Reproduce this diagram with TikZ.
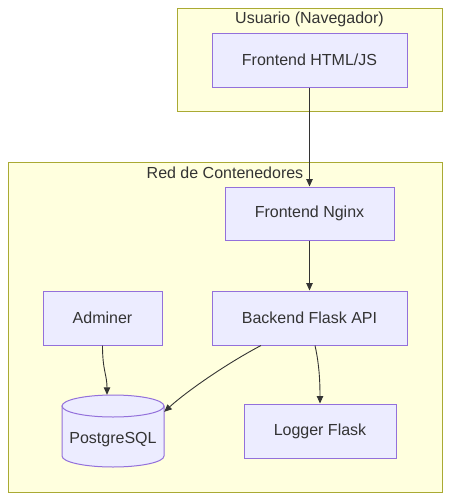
\documentclass[tikz,border=0pt]{standalone}
\usepackage{fontspec}
\setmainfont{Liberation Sans}
\usetikzlibrary{arrows.meta}
\definecolor{nodefill}{HTML}{ECECFF}
\definecolor{nodeline}{HTML}{9370DB}
\definecolor{clfill}{HTML}{FFFFDE}
\definecolor{clline}{HTML}{AAAA33}
\definecolor{txt}{HTML}{333333}
\begin{document}
\begin{tikzpicture}[x=1pt,y=-1pt,
  every node/.style={font=\fontsize{16pt}{19pt}\selectfont, text=txt},
  cluster/.style={draw=clline, fill=clfill, line width=1pt},
  svc/.style={draw=nodeline, fill=nodefill, line width=1pt, inner sep=0pt},
  link/.style={draw=txt, line width=0.9pt, -{Triangle[length=7.5pt,width=6.5pt]}}]
\useasboundingbox (0,0) rectangle (450,501);
% clusters
\draw[cluster] (177,8) rectangle (442,111);
\node (t1) at (309.5,19) {Usuario (Navegador)};
\draw[cluster] (8,162) rectangle (442,492);
\node (t2) at (225,173) {Red de Contenedores};
% nodes
\node[svc, minimum width=195pt, minimum height=54pt] (fe) at (309.5,60) {Frontend HTML/JS};
\node[svc, minimum width=169pt, minimum height=53pt] (ng) at (309.5,213.5) {Frontend Nginx};
\node[svc, minimum width=119pt, minimum height=54pt] (ad) at (102.5,318) {Adminer};
\node[svc, minimum width=195pt, minimum height=54pt] (be) at (309.5,318) {Backend Flask API};
\node[svc, minimum width=152pt, minimum height=54pt] (lg) at (320,431) {Logger Flask};
% cylinder
\path[draw=nodeline, fill=nodefill, line width=1pt]
  (62,406) -- (62,456) arc (180:360:51pt and 11pt) -- (164,406) -- cycle;
\draw[draw=nodeline, fill=nodefill, line width=1pt] (113,406) ellipse [x radius=51pt, y radius=11pt];
\node[minimum width=102pt, minimum height=72pt, inner sep=0pt] (pg) at (113,431) {};
\node at (113,440) {PostgreSQL};
% edges
\draw[link] (fe.south) -- (ng.north);
\draw[link] (ng.south) -- (be.north);
\draw[link] (ad.south) .. controls ([yshift=-25pt]ad.south) and ([xshift=-6pt,yshift=20pt]pg.north) .. ([xshift=-6pt]pg.north);
\draw[link] ([xshift=-48.5pt]be.south) .. controls ([xshift=-84.5pt,yshift=-19pt]be.south) and ([xshift=22pt,yshift=3pt]pg.north east) .. ([yshift=-17pt]pg.north east);
\draw[link] ([xshift=5.5pt]be.south) .. controls ([xshift=10pt,yshift=-20pt]be.south) and ([yshift=20pt]lg.north) .. (lg.north);
\end{tikzpicture}
\end{document}
